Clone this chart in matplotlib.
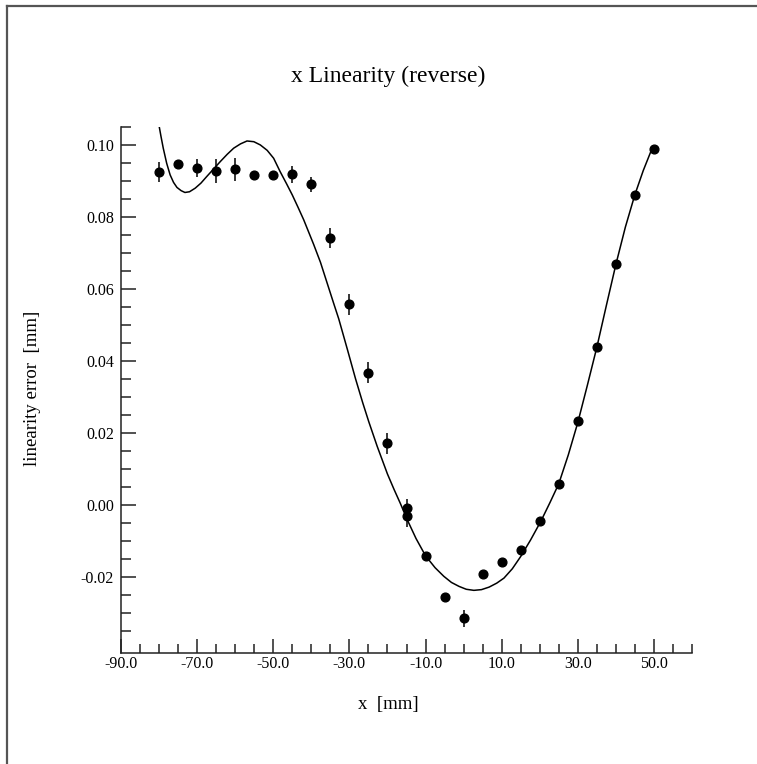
import numpy as np
import matplotlib.pyplot as plt
from matplotlib.lines import Line2D
from matplotlib.ticker import FixedLocator, FormatStrFormatter

plt.rcParams['font.family'] = ['Liberation Serif', 'DejaVu Serif']

# Measured points (x in mm, linearity error in mm).
x_pts = [-80, -75, -70, -65, -60, -55, -50, -45, -40, -35, -30, -25, -20,
         -15, -15, -10, -5, 0, 5, 10, 15, 20, 25, 30, 35, 40, 45, 50]
y_pts = [0.0926, 0.0949, 0.0937, 0.0928, 0.0933, 0.0917, 0.0917, 0.0919,
         0.0892, 0.0743, 0.0558, 0.0369, 0.0172, -0.0008, -0.0029, -0.0140,
         -0.0254, -0.0314, -0.0190, -0.0156, -0.0124, -0.0043, 0.0058,
         0.0233, 0.0439, 0.0669, 0.0863, 0.0990]
y_err = [0.0028, 0.0010, 0.0025, 0.0034, 0.0032, 0.0012, 0.0011, 0.0023,
         0.0021, 0.0028, 0.0029, 0.0030, 0.0030, 0.0025, 0.0030, 0.0008,
         0.0008, 0.0023, 0.0008, 0.0008, 0.0008, 0.0008, 0.0008, 0.0008,
         0.0008, 0.0008, 0.0008, 0.0008]

# Fitted curve.
x_fit = [-80.2, -79.5, -78.9, -78.0, -77.1, -76.2, -75.3, -74.2, -73.2,
         -72.0, -70.5, -69.0, -67.5, -65.7, -63.9, -62.1, -60.4, -58.6,
         -56.9, -55.1, -53.4, -51.6, -49.9, -48.2, -46.5, -45.0, -43.5,
         -42.0, -39.4, -37.6, -34.1, -32.8, -30.5, -28.4, -26.5, -24.9,
         -22.7, -20.0, -18.3, -16.6, -14.8, -12.5, -10.0, -7.5, -5.2, -3.2,
         -1.2, 0.7, 2.7, 4.7, 6.7, 8.7, 10.6, 12.8, 15.0, 17.6, 20.3, 22.7,
         25.0, 27.5, 30.0, 32.5, 35.0, 37.5, 40.0, 42.5, 45.0, 47.2, 49.2,
         50.2]
y_fit = [0.1066, 0.1025, 0.0992, 0.0950, 0.0918, 0.0897, 0.0883, 0.0874,
         0.0869, 0.0871, 0.0881, 0.0895, 0.0913, 0.0934, 0.0955, 0.0975,
         0.0992, 0.1004, 0.1012, 0.1010, 0.1001, 0.0986, 0.0964, 0.0927,
         0.0893, 0.0862, 0.0828, 0.0793, 0.0725, 0.0675, 0.0560, 0.0518,
         0.0432, 0.0352, 0.0285, 0.0232, 0.0164, 0.0087, 0.0045, 0.0005,
         -0.0040, -0.0092, -0.0140, -0.0173, -0.0197, -0.0214, -0.0225,
         -0.0233, -0.0236, -0.0234, -0.0227, -0.0216, -0.0202, -0.0176,
         -0.0142, -0.0096, -0.0044, 0.0008, 0.0060, 0.0140, 0.0230, 0.0333,
         0.0439, 0.0555, 0.0669, 0.0773, 0.0863, 0.0930, 0.0983, 0.0996]

x_major = [-90, -70, -50, -30, -10, 10, 30, 50]
y_major = [-0.02, 0.00, 0.02, 0.04, 0.06, 0.08, 0.10]

W, H = 757, 764
fig = plt.figure(figsize=(W / 100, H / 100), dpi=100)
ax = fig.add_axes([121 / W, 1 - 653 / H, (692 - 121) / W, (653 - 127.3) / H])

# Outer frame (only top and left edges show in the picture).
frame_kw = dict(color='#555555', lw=1.6, transform=fig.transFigure)
fig.add_artist(Line2D([6.5 / W, 6.5 / W], [0, 1 - 5.5 / H], **frame_kw))
fig.add_artist(Line2D([6.5 / W, 1], [1 - 5.5 / H, 1 - 5.5 / H], **frame_kw))

ax.plot(x_fit, y_fit, 'k-', lw=1.1, solid_joinstyle='round')
ax.errorbar(x_pts, y_pts, yerr=y_err, fmt='o', color='k', ms=6.3,
            elinewidth=1.1, capsize=0)

ax.set_xlim(-90, 60)
ax.set_ylim(-0.041, 0.105)

ax.xaxis.set_major_locator(FixedLocator(x_major))
ax.xaxis.set_minor_locator(FixedLocator(np.arange(-90, 61, 5)))
ax.yaxis.set_major_locator(FixedLocator(y_major))
ax.yaxis.set_minor_locator(FixedLocator(np.arange(-0.035, 0.1051, 0.005)))
ax.xaxis.set_major_formatter(FormatStrFormatter('%.1f'))
ax.yaxis.set_major_formatter(FormatStrFormatter('%.2f'))

ax.tick_params(axis='both', which='both', direction='in', width=1.1,
               labelsize=11.5, color='#222222')
ax.tick_params(axis='x', which='major', length=10, pad=2)
ax.tick_params(axis='x', which='minor', length=6.5)
ax.tick_params(axis='y', which='major', length=11, pad=5)
ax.tick_params(axis='y', which='minor', length=7)

for side in ['top', 'right']:
    ax.spines[side].set_visible(False)
for side in ['left', 'bottom']:
    ax.spines[side].set_linewidth(1.1)
    ax.spines[side].set_color('#222222')

fig.text(388 / W, 1 - 76 / H, 'x Linearity (reverse)', ha='center',
         va='center', fontsize=17)
fig.text(388 / W, 1 - 705 / H, 'x  [mm]', ha='center', va='center',
         fontsize=13.5)
fig.text(33 / W, 1 - 388 / H, 'linearity error  [mm]', ha='center',
         va='center', rotation=90, fontsize=13.5)

fig.savefig('out.png', dpi=100)
